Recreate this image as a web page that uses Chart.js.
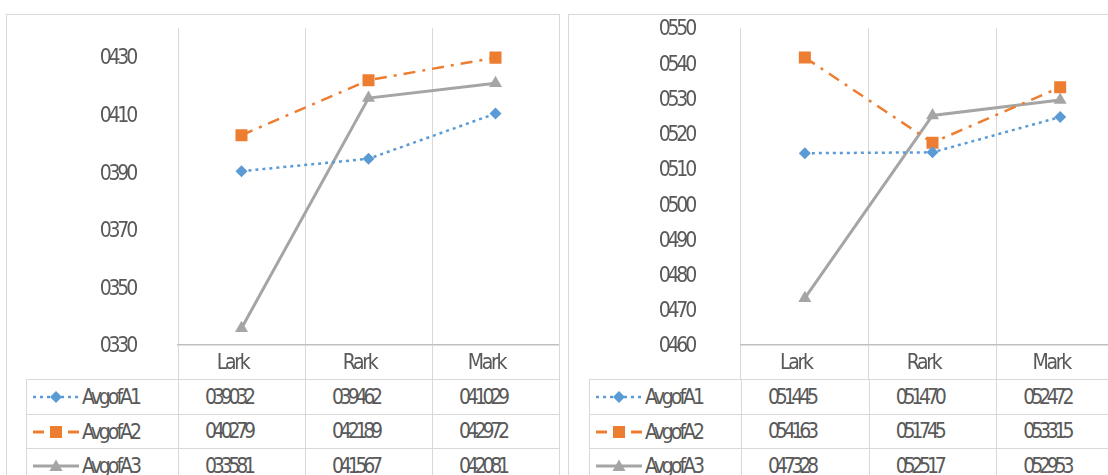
<!DOCTYPE html>
<html lang="en">
<head>
<meta charset="UTF-8">
<title>AvgofA by mark</title>
<script src="https://cdn.jsdelivr.net/npm/chart.js"></script>
<style>
  html, body { margin: 0; padding: 0; background: #fff; overflow: hidden; }
  body { width: 1108px; height: 475px; position: relative; }
  .frame { position: absolute; border: 1px solid #D9D9D9; box-sizing: border-box; }
  canvas { position: absolute; }
  table.tbl {
    position: absolute; border-collapse: collapse; table-layout: fixed;
    font-family: "DejaVu Sans Condensed", sans-serif;
    font-size: 21px; color: #595959;
  }
  table.tbl td { border: 1px solid #D9D9D9; height: 33.5px; padding: 0; white-space: nowrap; overflow: hidden; }
  table.tbl td.v { text-align: left; padding-left: 26px; letter-spacing: -4.2px; }
  table.tbl td.k svg { vertical-align: middle; margin-left: 6px; margin-right: 3px; }
  table.tbl td.k span { vertical-align: middle; letter-spacing: -3px; }
</style>
</head>
<body>
<div class="frame" style="left:6px; top:14px; width:554px; height:480px;"></div>
<div class="frame" style="left:568px; top:14px; width:560px; height:480px;"></div>
<canvas id="chartLeft" width="553" height="365" style="left:6px; top:14px;"></canvas>
<canvas id="chartRight" width="555" height="365" style="left:569px; top:14px;"></canvas>
<table class="tbl" id="tableLeft"></table>
<table class="tbl" id="tableRight"></table>

<script>
    const categories = ['Lark', 'Rark', 'Mark'];
    const seriesNames = ['AvgofA1', 'AvgofA2', 'AvgofA3'];

    // left panel
    const leftA1 = [0.39032, 0.39462, 0.41029];
    const leftA2 = [0.40279, 0.42189, 0.42972];
    const leftA3 = [0.33581, 0.41567, 0.42081];
    const leftTicks = [0.33, 0.35, 0.37, 0.39, 0.41, 0.43];

    // right panel
    const rightA1 = [0.51445, 0.51470, 0.52472];
    const rightA2 = [0.54163, 0.51745, 0.53315];
    const rightA3 = [0.47328, 0.52517, 0.52953];
    const rightTicks = [0.46, 0.47, 0.48, 0.49, 0.50, 0.51, 0.52, 0.53, 0.54, 0.55];

    const FONT = '"DejaVu Sans Condensed", sans-serif';
    const TEXT = '#595959';
    const GRID = '#D9D9D9';

    const styles = [
        { color: '#5B9BD5', dash: [3, 4], point: 'rectRot', radius: 6, width: 2.5 },
        { color: '#ED7D31', dash: [12, 7, 3, 7], point: 'rect', radius: 8.5, width: 2.5 },
        { color: '#A5A5A5', dash: [], point: 'triangle', radius: 7.5, width: 3 }
    ];

    // the reference prints numbers without the decimal point
    const squash = (v, digits) => v.toFixed(digits).replace('.', '');

    // squeeze the tick text like the original (per axis letter spacing)
    const spacingPlugin = {
        id: 'spacing',
        afterLayout(chart) {
            const gaps = { x: '-2.3px', y: '-3.2px' };
            Object.keys(gaps).forEach(k => {
                const s = chart.scales[k];
                if (s._squeezed) return;
                const orig = s.drawLabels;
                s.drawLabels = function (area) {
                    const ctx = this.ctx;
                    const old = ctx.letterSpacing;
                    ctx.letterSpacing = gaps[k];
                    orig.call(this, area);
                    ctx.letterSpacing = old;
                };
                s._squeezed = true;
            });
        }
    };

    function makeChart(id, seriesData, ticks, yMin, yMax, yPad) {
        const ctx = document.getElementById(id).getContext('2d');
        return new Chart(ctx, {
            type: 'line',
            data: {
                labels: categories,
                datasets: seriesData.map((d, i) => ({
                    label: seriesNames[i],
                    data: d,
                    borderColor: styles[i].color,
                    backgroundColor: styles[i].color,
                    borderWidth: styles[i].width,
                    borderDash: styles[i].dash,
                    pointStyle: styles[i].point,
                    pointRadius: styles[i].radius,
                    pointHoverRadius: styles[i].radius,
                    pointBorderWidth: 0,
                    tension: 0,
                    fill: false
                }))
            },
            options: {
                responsive: false,
                animation: false,
                layout: { autoPadding: false, padding: { top: 14, right: 0, bottom: 0, left: 0 } },
                plugins: { legend: { display: false }, tooltip: { enabled: false } },
                scales: {
                    x: {
                        offset: true,
                        grid: { color: GRID, offset: true, drawTicks: true, tickLength: 34, tickColor: GRID },
                        border: { display: true, color: '#BFBFBF', width: 1.5 },
                        ticks: { color: TEXT, font: { family: FONT, size: 21 }, padding: -28, labelOffset: -9, maxRotation: 0 },
                        afterFit: s => { s.height = 34; s.paddingLeft = 0; s.paddingRight = 0; }
                    },
                    y: {
                        min: yMin,
                        max: yMax,
                        grid: { display: false },
                        border: { display: false },
                        afterBuildTicks: s => { s.ticks = ticks.map(v => ({ value: v })); },
                        afterFit: s => { s.width = 172; s.paddingTop = 0; s.paddingBottom = 0; },
                        ticks: {
                            color: TEXT, font: { family: FONT, size: 21 }, padding: yPad, labelOffset: 2,
                            callback: v => squash(v, 3)
                        }
                    }
                }
            },
            plugins: [spacingPlugin]
        });
    }

    function legendIcon(i) {
        const s = styles[i];
        const dash = s.dash.length ? `stroke-dasharray="${s.dash.join(' ')}"` : '';
        let mark;
        if (s.point === 'rectRot') mark = `<polygon points="23,1 29,7 23,13 17,7" fill="${s.color}"/>`;
        else if (s.point === 'rect') mark = `<rect x="17" y="1" width="12" height="12" fill="${s.color}"/>`;
        else mark = `<polygon points="23,0.5 29.5,12 16.5,12" fill="${s.color}"/>`;
        let line = `<line x1="0" y1="7" x2="46" y2="7" stroke="${s.color}" stroke-width="${s.width}" ${dash}/>`;
        if (s.point === 'rect') {
            line = `<line x1="0" y1="7" x2="11" y2="7" stroke="${s.color}" stroke-width="3"/>` +
                   `<line x1="35" y1="7" x2="46" y2="7" stroke="${s.color}" stroke-width="3"/>`;
        }
        return `<svg width="46" height="14" viewBox="0 0 46 14">${line}${mark}</svg>`;
    }

    function buildTable(tableId, chart, left, canvasLeft, seriesData) {
        const table = document.getElementById(tableId);
        const area = chart.chartArea;
        const colW = (area.right - area.left) / categories.length;
        const keyW = canvasLeft + area.left - left;
        table.style.left = left + 'px';
        table.style.top = (14 + area.bottom + 34) + 'px';
        table.style.width = (keyW + colW * categories.length) + 'px';
        let html = `<colgroup><col style="width:${keyW}px">` +
            categories.map(() => `<col style="width:${colW}px">`).join('') + '</colgroup>';
        seriesData.forEach((row, i) => {
            html += `<tr><td class="k">${legendIcon(i)}<span>${seriesNames[i]}</span></td>` +
                row.map(v => `<td class="v">${squash(v, 5)}</td>`).join('') + '</tr>';
        });
        table.innerHTML = html;
    }

    const leftData = [leftA1, leftA2, leftA3];
    const rightData = [rightA1, rightA2, rightA3];
    const leftChart = makeChart('chartLeft', leftData, leftTicks, 0.33, 0.44, 35);
    const rightChart = makeChart('chartRight', rightData, rightTicks, 0.46, 0.55, 39);
    buildTable('tableLeft', leftChart, 26, 6, leftData);
    buildTable('tableRight', rightChart, 589, 569, rightData);
</script>
</body>
</html>
